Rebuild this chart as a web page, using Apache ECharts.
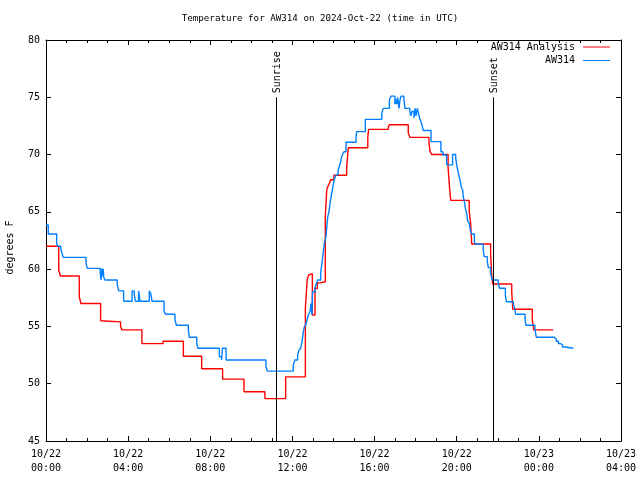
<!DOCTYPE html>
<html>
<head>
<meta charset="utf-8">
<script src="https://cdn.jsdelivr.net/npm/echarts@6/dist/echarts.min.js"></script>
<style>
html,body{margin:0;padding:0;background:#fff;}
#chart{width:640px;height:480px;}
</style>
</head>
<body>
<div id="chart"></div>
<script>
// hours since 2024-10-22 00:00 UTC
var tickDates = ['10/22','10/22','10/22','10/22','10/22','10/22','10/23','10/23'];
var tickTimes = ['00:00','04:00','08:00','12:00','16:00','20:00','00:00','04:00'];

var redTimes = [0,0.62,0.70,1.62,1.70,2.66,2.72,3.63,3.70,4.67,5.70,6.69,7.58,8.60,9.64,10.66,11.67,12.63,12.72,12.79,12.86,12.97,13.10,13.21,13.34,13.60,13.67,13.72,13.78,13.86,14.02,14.64,14.72,15.67,15.71,16.67,16.72,17.64,17.72,18.65,18.70,18.78,19.58,19.66,19.71,20.61,20.68,20.73,21.65,21.70,21.75,22.68,22.73,23.68,23.75,24.70];
var redValues = [62.0,59.9,59.4,57.6,57.0,55.5,55.4,55.0,54.7,53.5,53.7,52.4,51.3,50.4,49.3,48.7,50.6,56.6,59.1,59.5,59.6,56.0,58.3,58.8,58.9,64.6,66.9,67.2,67.4,67.8,68.2,68.8,70.6,71.5,72.2,72.4,72.6,71.9,71.5,71.05,70.3,70.0,68.9,66.9,66.0,65.0,64.0,62.2,61.4,59.6,58.7,58.0,56.5,55.6,54.7,54.7];

var blueTimes = [0,0.11,0.52,0.57,0.72,0.78,0.84,1.95,2.01,2.64,2.68,2.73,2.76,2.79,2.81,2.87,3.47,3.54,3.78,4.19,4.30,4.35,4.51,4.58,5.03,5.11,5.16,5.75,5.83,6.28,6.35,6.93,6.98,7.34,7.40,8.44,8.55,8.59,8.77,10.71,10.78,12.04,12.12,12.25,12.31,12.40,12.48,12.53,12.58,12.66,12.71,12.77,12.86,12.90,12.95,12.98,13.10,13.18,13.23,13.38,13.45,13.50,13.55,13.63,13.68,13.72,13.78,13.83,13.88,13.94,13.99,14.04,14.11,14.19,14.23,14.28,14.35,14.40,14.45,14.51,14.61,15.10,15.13,15.55,16.35,16.42,16.72,16.80,16.99,17.04,17.08,17.12,17.19,17.24,17.29,17.43,17.48,17.72,17.77,17.82,17.92,17.97,18.02,18.08,18.15,18.21,18.26,18.32,18.37,18.75,19.23,19.33,19.51,19.80,19.95,20.00,20.08,20.16,20.22,20.29,20.32,20.37,20.42,20.49,20.53,20.61,20.66,20.74,20.86,20.90,21.29,21.34,21.49,21.54,21.65,21.72,22.02,22.09,22.37,22.42,22.76,22.81,22.87,23.33,23.37,23.81,23.88,24.75,24.85,24.95,25.05,25.15,25.27,25.68];
var blueValues = [63.85,63.07,62.26,62.0,61.8,61.4,61.03,60.5,60.07,59.64,59.05,60.07,59.4,60.0,59.3,59.05,58.6,58.1,57.2,58.1,57.8,57.2,58.1,57.2,58.1,57.8,57.2,56.3,56.06,55.56,55.1,54.7,54.05,53.5,53.1,52.36,52.07,53.1,52.07,51.5,51.1,51.6,52.07,52.5,52.9,53.1,53.8,54.5,54.97,55.2,55.56,56.0,56.3,57.0,56.0,58.0,58.4,58.8,59.05,59.78,60.7,61.5,62.2,62.8,63.85,64.58,65.0,65.75,66.3,66.9,67.4,67.84,68.16,68.3,68.65,68.94,69.4,69.8,70.05,70.25,71.07,71.56,72.0,73.07,73.6,74.03,74.76,75.1,74.4,74.8,74.4,75.0,74.03,74.8,75.1,74.8,74.03,73.76,73.37,73.76,73.2,74.03,73.37,74.03,73.5,73.07,72.87,72.5,72.1,71.13,70.25,69.96,69.1,70.0,69.7,69.1,68.36,67.78,67.2,66.9,66.3,65.95,65.3,64.8,64.2,64.0,63.4,63.07,62.4,62.17,61.67,61.09,60.65,60.13,59.64,59.05,58.76,58.33,57.7,57.16,56.9,56.7,56.06,55.56,55.1,54.7,54.05,53.9,53.7,53.5,53.4,53.2,53.1,53.1];

var sunTimes = [11.2, 21.77];
var sunLabels = ['Sunrise', 'Sunset'];
var sunTop = 75;

var FONT = '"DejaVu Sans Mono", monospace';

function pairs(t, v){ var out=[]; for (var i=0;i<t.length;i++) out.push([t[i], v[i]]); return out; }

var chart = echarts.init(document.getElementById('chart'), null, {renderer:'canvas'});

var xBase = {
  type:'value', min:0, max:28, interval:4,
  axisLine:{show:true, onZero:false, lineStyle:{color:'#000', width:1}},
  axisTick:{show:true, inside:true, length:5, lineStyle:{color:'#000'}},
  minorTick:{show:true, splitNumber:4, length:3, lineStyle:{color:'#000'}},
  splitLine:{show:false}
};
var yBase = {
  type:'value', min:45, max:80, interval:5,
  axisLine:{show:true, onZero:false, lineStyle:{color:'#000', width:1}},
  axisTick:{show:true, inside:true, length:5, lineStyle:{color:'#000'}},
  splitLine:{show:false}
};

var option = {
  animation:false,
  backgroundColor:'#fff',
  title:{
    text:'Temperature for AW314 on 2024-Oct-22 (time in UTC)',
    left:'center', top:14, padding:0,
    textStyle:{fontFamily:FONT, fontSize:9.2, fontWeight:'normal', color:'#000'}
  },
  legend:[
    {data:['AW314 Analysis'], right:30, top:42, padding:0, orient:'vertical', align:'right',
     icon:'rect', itemWidth:27, itemHeight:1, itemGap:0,
     textStyle:{fontFamily:FONT, fontSize:10, color:'#000', padding:[0,3,0,0]}},
    {data:['AW314'], right:30, top:55.5, padding:0, orient:'vertical', align:'right',
     icon:'rect', itemWidth:27, itemHeight:1, itemGap:0,
     textStyle:{fontFamily:FONT, fontSize:10, color:'#000', padding:[0,3,0,0]}}
  ],
  grid:{left:46, right:19, top:40, bottom:39, containLabel:false, outerBoundsMode:'none'},
  xAxis:[
    Object.assign({}, xBase, {
      position:'bottom',
      axisLabel:{show:true, margin:6, color:'#000', fontFamily:FONT, fontSize:10, lineHeight:14,
        showMinLabel:true, showMaxLabel:true,
        formatter:function(v){ var i=Math.round(v/4); return tickDates[i]+'\n'+tickTimes[i]; }}
    }),
    Object.assign({}, xBase, {position:'top', axisLabel:{show:false}})
  ],
  yAxis:[
    Object.assign({}, yBase, {
      position:'left',
      name:'degrees F', nameLocation:'middle', nameGap:31, nameRotate:90,
      nameTextStyle:{fontFamily:FONT, fontSize:10, color:'#000', padding:[0,14,0,0]},
      axisLabel:{show:true, margin:6, color:'#000', fontFamily:FONT, fontSize:10}
    }),
    Object.assign({}, yBase, {position:'right', axisLabel:{show:false}})
  ],
  series:[
    {
      name:'AW314 Analysis', type:'line', step:'end', symbol:'none', showSymbol:false,
      xAxisIndex:0, yAxisIndex:0,
      data:pairs(redTimes, redValues),
      lineStyle:{color:'#ff0000', width:1.4}, itemStyle:{color:'#ff0000'}, z:2
    },
    {
      name:'AW314', type:'line', step:'end', symbol:'none', showSymbol:false,
      xAxisIndex:0, yAxisIndex:0,
      data:pairs(blueTimes, blueValues),
      lineStyle:{color:'#0080ff', width:1.4}, itemStyle:{color:'#0080ff'}, z:3
    },
    {
      name:'sun', type:'custom', xAxisIndex:0, yAxisIndex:0, z:10,
      data:sunTimes.map(function(t){ return [t]; }),
      renderItem:function(params, api){
        var x = api.value(0);
        var p0 = api.coord([x, 45]);
        var p1 = api.coord([x, sunTop]);
        return {type:'group', children:[
          {type:'line', shape:{x1:Math.round(p0[0])+0.5, y1:p0[1], x2:Math.round(p1[0])+0.5, y2:p1[1]},
           style:{stroke:'#000', lineWidth:1}},
          {type:'text', x:Math.round(p1[0])+1, y:p1[1]-4, rotation:Math.PI/2,
           style:{text:sunLabels[params.dataIndex], fill:'#000', font:'10px '+FONT,
                  align:'left', verticalAlign:'middle'}}
        ]};
      }
    }
  ]
};
chart.setOption(option);
</script>
</body>
</html>
